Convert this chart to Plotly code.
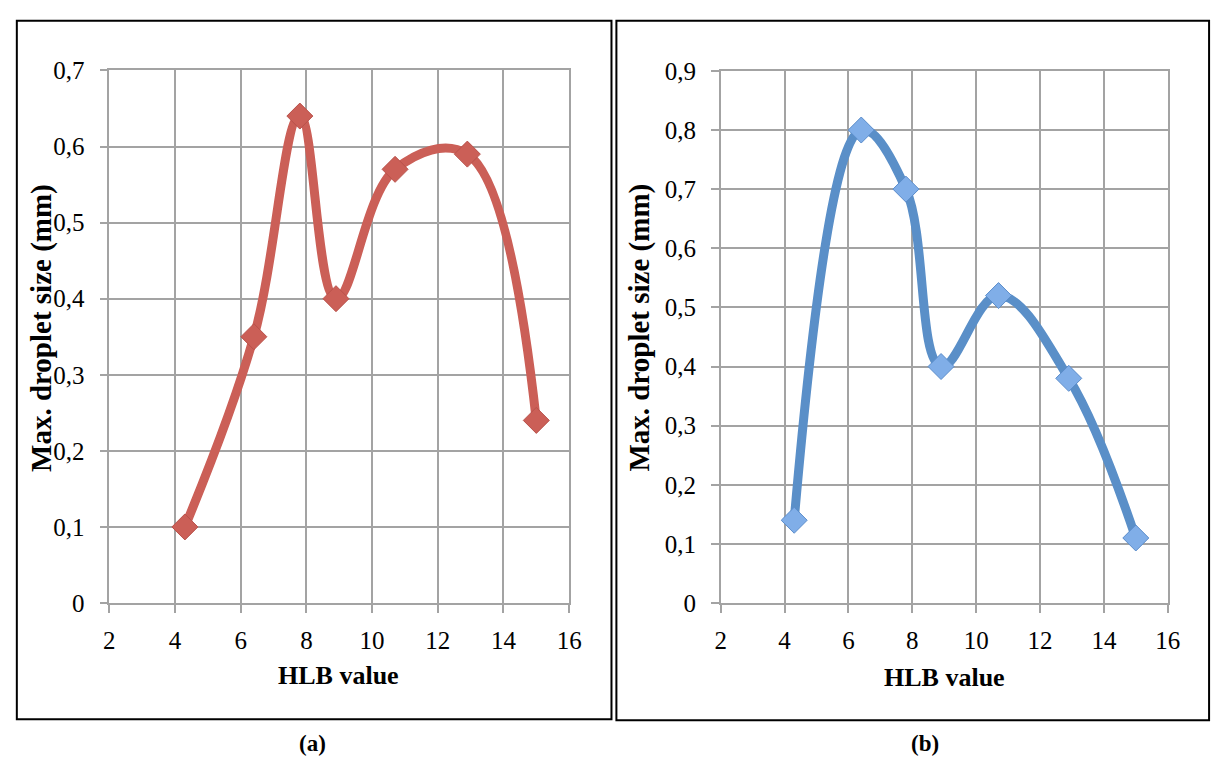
import plotly.graph_objects as go

# HLB values of the surfactant blends and the measured maximum droplet sizes
hlb = [4.3, 6.4, 7.8, 8.9, 10.7, 12.9, 15.0]
size_a = [0.10, 0.35, 0.64, 0.40, 0.57, 0.59, 0.24]
size_b = [0.14, 0.80, 0.70, 0.40, 0.52, 0.38, 0.11]

x_ticks = [2, 4, 6, 8, 10, 12, 14, 16]
x_labels = ["2", "4", "6", "8", "10", "12", "14", "16"]
y_ticks_a = [0, 0.1, 0.2, 0.3, 0.4, 0.5, 0.6, 0.7]
y_labels_a = ["0", "0,1", "0,2", "0,3", "0,4", "0,5", "0,6", "0,7"]
y_ticks_b = [0, 0.1, 0.2, 0.3, 0.4, 0.5, 0.6, 0.7, 0.8, 0.9]
y_labels_b = ["0", "0,1", "0,2", "0,3", "0,4", "0,5", "0,6", "0,7", "0,8", "0,9"]

W, H = 1227, 769
FONT = "Liberation Serif"
GRID = "#A3A3A3"
RED = "#CB5F57"
BLUE = "#5A8FC8"


def px(x):
    return x / W


def py(y):
    return 1 - y / H


fig = go.Figure()

fig.add_trace(go.Scatter(
    x=hlb, y=size_a, xaxis="x", yaxis="y", mode="lines+markers",
    line=dict(color=RED, width=9, shape="spline", smoothing=1.1),
    marker=dict(symbol="diamond", size=20, color=RED,
                line=dict(color="#B9524B", width=1)),
    cliponaxis=False, showlegend=False,
))
fig.add_trace(go.Scatter(
    x=hlb, y=size_b, xaxis="x2", yaxis="y2", mode="lines+markers",
    line=dict(color=BLUE, width=9, shape="spline", smoothing=1.1),
    marker=dict(symbol="diamond", size=20, color="#80AEE8",
                line=dict(color="#5B8DCB", width=1)),
    cliponaxis=False, showlegend=False,
))

axis_common = dict(
    showgrid=True, gridcolor=GRID, gridwidth=1.5,
    showline=True, linecolor=GRID, linewidth=1.5, mirror=True,
    ticks="outside", ticklen=8, tickcolor=GRID, tickwidth=1.5,
    zeroline=False, tickfont=dict(family=FONT, size=25, color="black"),
    fixedrange=True,
)

fig.update_layout(
    width=W, height=H,
    margin=dict(l=0, r=0, t=0, b=0),
    paper_bgcolor="white", plot_bgcolor="white",
    xaxis=dict(domain=[px(105), px(572)], range=[2, 16], anchor="y",
               tickvals=x_ticks, ticktext=x_labels, ticklabelstandoff=6,
               **axis_common),
    yaxis=dict(domain=[py(611.5), py(59.5)], range=[0, 0.7], anchor="x",
               tickvals=y_ticks_a, ticktext=y_labels_a, ticklabelstandoff=10,
               **axis_common),
    xaxis2=dict(domain=[px(726), px(1180)], range=[2, 16], anchor="y2",
                tickvals=x_ticks, ticktext=x_labels, ticklabelstandoff=6,
                **axis_common),
    yaxis2=dict(domain=[py(611.5), py(60)], range=[0, 0.9], anchor="x2",
                tickvals=y_ticks_b, ticktext=y_labels_b, ticklabelstandoff=10,
                **axis_common),
)

# Panel frames
frame = dict(type="rect", xref="paper", yref="paper",
             line=dict(color="black", width=2), fillcolor="rgba(0,0,0,0)")
fig.add_shape(x0=px(11), x1=px(615), y0=py(732), y1=py(8), **frame)
fig.add_shape(x0=px(620), x1=px(1222), y0=py(733), y1=py(8), **frame)

# Axis titles and panel captions
def label(text, x, y, size, angle=0):
    fig.add_annotation(text=f"<b>{text}</b>", x=px(x), y=py(y),
                       xref="paper", yref="paper", showarrow=False,
                       textangle=angle, xanchor="center", yanchor="middle",
                       font=dict(family=FONT, size=size, color="black"))


label("Max. droplet size (mm)", 36, 326, 29, -90)
label("Max. droplet size (mm)", 644, 326, 29, -90)
label("HLB value", 338, 687, 26)
label("HLB value", 953, 689, 26)
label("(a)", 311, 757, 23)
label("(b)", 933, 757, 23)

fig.write_html("out.html")
